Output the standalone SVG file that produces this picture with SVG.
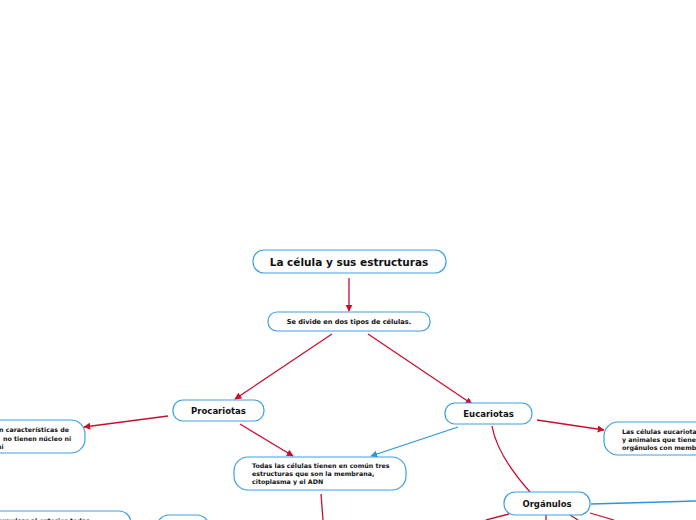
<svg xmlns="http://www.w3.org/2000/svg" width="696" height="520" viewBox="0 0 696 520">
<defs>
<marker id="ar" viewBox="0 0 10 10" refX="9" refY="5" markerWidth="7" markerHeight="7" markerUnits="userSpaceOnUse" orient="auto"><path d="M0,0 L10,5 L0,10 z" fill="#c8102e"/></marker>
<marker id="ab" viewBox="0 0 10 10" refX="9" refY="5" markerWidth="7" markerHeight="7" markerUnits="userSpaceOnUse" orient="auto"><path d="M0,0 L10,5 L0,10 z" fill="#2a96e0"/></marker>
</defs>
<style>
.n{fill:#fff;stroke:#3a9fe4;stroke-width:1.2}
.t{font-family:"DejaVu Sans",Verdana,sans-serif;font-weight:bold;fill:#111}
.r{fill:none;stroke:#c8102e;stroke-width:1.3}
.b{fill:none;stroke:#2a96e0;stroke-width:1.3}
</style>
<rect width="696" height="520" fill="#fff"/>
<g id="connectors">
<path class="r" d="M349,278 L349,311" marker-end="url(#ar)"/>
<path class="r" d="M332,334 L235,399" marker-end="url(#ar)"/>
<path class="r" d="M368,334 L472,404" marker-end="url(#ar)"/>
<path class="r" d="M168,416 L84,427" marker-end="url(#ar)"/>
<path class="r" d="M240,424 L293,456" marker-end="url(#ar)"/>
<path class="b" d="M458,427 L371,456" marker-end="url(#ab)"/>
<path class="r" d="M537,420 L604,430" marker-end="url(#ar)"/>
<path class="r" d="M492,426 Q497,455 530,492"/>
<path class="r" d="M321,494 L323,520"/>
<path class="b" d="M591,504 L696,501"/>
<path class="r" d="M509,514 L486,520"/>
<path class="r" d="M546,515 L546,520"/>
<path class="r" d="M570,515 L578,520"/>
<path class="r" d="M590,513 L614,520"/>
</g>
<g id="root"><rect class="n" x="253" y="250" width="193" height="23" rx="11"/><text class="t" x="349" y="266" font-size="10.5" text-anchor="middle">La célula y sus estructuras</text></g>
<g id="divide"><rect class="n" x="268" y="312" width="162" height="19" rx="9"/><text class="t" x="349" y="324" font-size="6.6" text-anchor="middle">Se divide en dos tipos de células.</text></g>
<g id="procariotas"><rect class="n" x="173" y="400" width="91" height="21" rx="10"/><text class="t" x="218.5" y="414" font-size="8.5" text-anchor="middle">Procariotas</text></g>
<g id="eucariotas"><rect class="n" x="445" y="403" width="87" height="21" rx="10"/><text class="t" x="488.5" y="417" font-size="8.5" text-anchor="middle">Eucariotas</text></g>
<g id="procdesc"><rect class="n" x="-40" y="420" width="125" height="33" rx="14"/><text class="t" font-size="6.3"><tspan x="-1" y="432">n características de</tspan><tspan x="3" y="440.5">no tienen núcleo ni</tspan><tspan x="-3" y="449">ni</tspan></text></g>
<g id="todas"><rect class="n" x="234" y="457" width="172" height="33" rx="14"/><text class="t" font-size="6.3"><tspan x="252" y="468">Todas las células tienen en común tres</tspan><tspan x="252" y="476">estructuras que son la membrana,</tspan><tspan x="252" y="484">citoplasma y el ADN</tspan></text></g>
<g id="eucdesc"><rect class="n" x="604" y="422" width="110" height="33" rx="14"/><text class="t" font-size="6.3"><tspan x="622" y="434">Las células eucariotas son</tspan><tspan x="622" y="442">y animales que tienen</tspan><tspan x="622" y="450">orgánulos con membrana</tspan></text></g>
<g id="organulos"><rect class="n" x="504" y="492" width="86" height="23" rx="11"/><text class="t" x="547" y="507" font-size="8.5" text-anchor="middle">Orgánulos</text></g>
<g id="bottomleft"><rect class="n" x="-40" y="511" width="171" height="30" rx="12"/><text class="t" x="-2" y="523" font-size="6.3">expulsar al exterior todas</text></g>
<g id="bottomsmall"><rect class="n" x="157" y="515" width="52" height="30" rx="12"/></g>
</svg>
